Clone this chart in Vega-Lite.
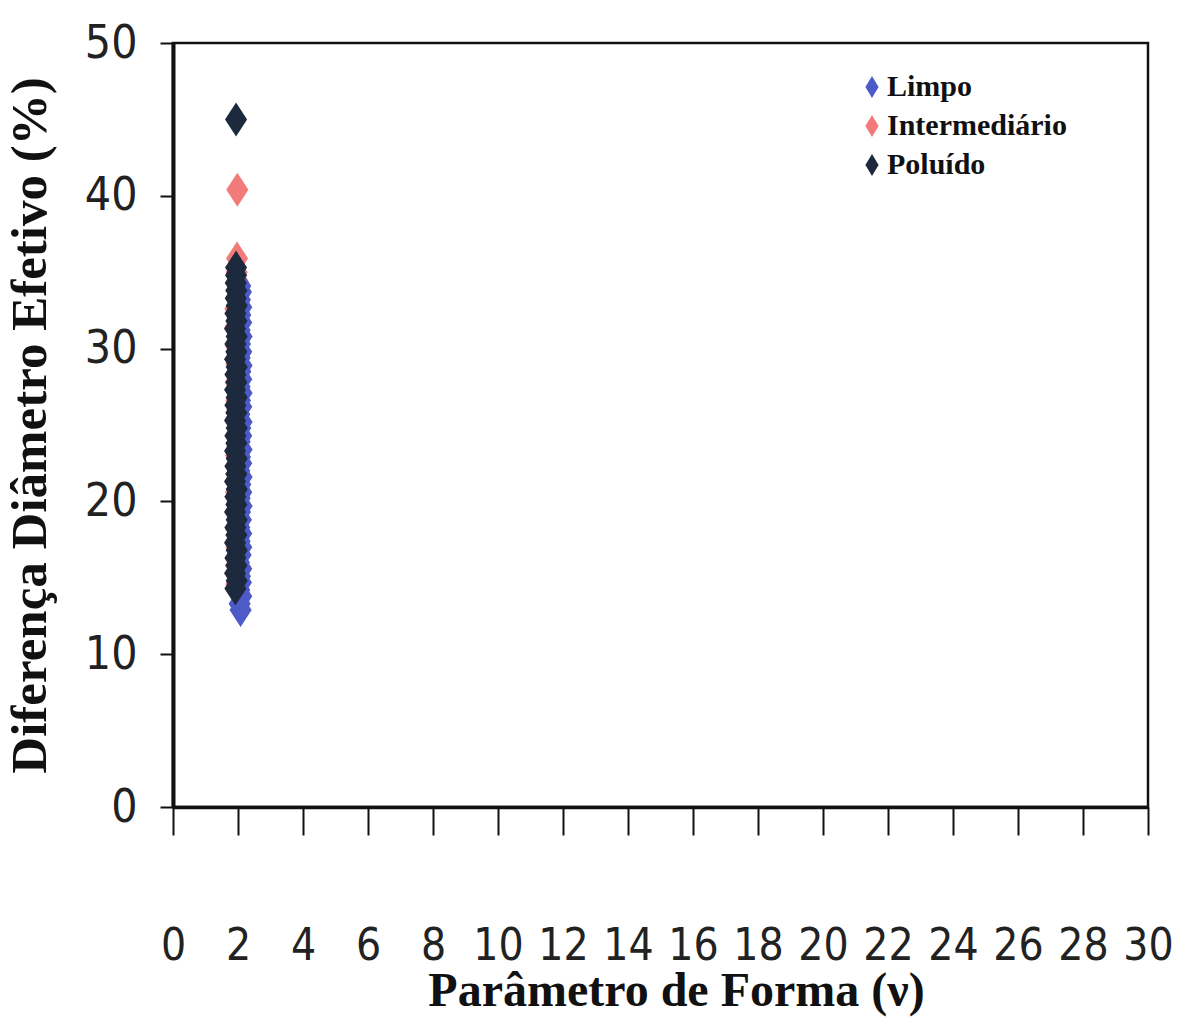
{
  "$schema": "https://vega.github.io/schema/vega-lite/v6.json",
  "width": 975,
  "height": 764,
  "autosize": "none",
  "padding": {"left": 173, "top": 43, "right": 31, "bottom": 211},
  "background": "white",
  "config": {
    "view": {"stroke": "#111", "strokeWidth": 2.5},
    "axis": {"grid": false}
  },
  "data": {
    "values": [
      {"v": 2.08, "d": 12.9, "s": "Limpo"}, {"v": 2.05, "d": 13.3, "s": "Limpo"}, {"v": 2.1, "d": 13.8, "s": "Limpo"},
      {"v": 2.04, "d": 14.2, "s": "Limpo"}, {"v": 2.09, "d": 14.7, "s": "Limpo"}, {"v": 2.06, "d": 15.1, "s": "Limpo"},
      {"v": 2.1, "d": 15.6, "s": "Limpo"}, {"v": 2.03, "d": 16.0, "s": "Limpo"}, {"v": 2.08, "d": 16.5, "s": "Limpo"},
      {"v": 2.1, "d": 17.0, "s": "Limpo"}, {"v": 2.05, "d": 17.4, "s": "Limpo"}, {"v": 2.1, "d": 17.9, "s": "Limpo"},
      {"v": 2.04, "d": 18.3, "s": "Limpo"}, {"v": 2.09, "d": 18.8, "s": "Limpo"}, {"v": 2.06, "d": 19.3, "s": "Limpo"},
      {"v": 2.11, "d": 19.7, "s": "Limpo"}, {"v": 2.05, "d": 20.2, "s": "Limpo"}, {"v": 2.1, "d": 20.6, "s": "Limpo"},
      {"v": 2.07, "d": 21.1, "s": "Limpo"}, {"v": 2.11, "d": 21.6, "s": "Limpo"}, {"v": 2.04, "d": 22.0, "s": "Limpo"},
      {"v": 2.1, "d": 22.5, "s": "Limpo"}, {"v": 2.06, "d": 22.9, "s": "Limpo"}, {"v": 2.11, "d": 23.4, "s": "Limpo"},
      {"v": 2.05, "d": 23.9, "s": "Limpo"}, {"v": 2.1, "d": 24.3, "s": "Limpo"}, {"v": 2.07, "d": 24.8, "s": "Limpo"},
      {"v": 2.11, "d": 25.2, "s": "Limpo"}, {"v": 2.04, "d": 25.7, "s": "Limpo"}, {"v": 2.1, "d": 26.2, "s": "Limpo"},
      {"v": 2.06, "d": 26.6, "s": "Limpo"}, {"v": 2.11, "d": 27.1, "s": "Limpo"}, {"v": 2.05, "d": 27.5, "s": "Limpo"},
      {"v": 2.1, "d": 28.0, "s": "Limpo"}, {"v": 2.07, "d": 28.5, "s": "Limpo"}, {"v": 2.11, "d": 28.9, "s": "Limpo"},
      {"v": 2.05, "d": 29.4, "s": "Limpo"}, {"v": 2.1, "d": 29.8, "s": "Limpo"}, {"v": 2.06, "d": 30.3, "s": "Limpo"},
      {"v": 2.11, "d": 30.8, "s": "Limpo"}, {"v": 2.05, "d": 31.2, "s": "Limpo"}, {"v": 2.1, "d": 31.7, "s": "Limpo"},
      {"v": 2.07, "d": 32.2, "s": "Limpo"}, {"v": 2.1, "d": 32.7, "s": "Limpo"}, {"v": 2.06, "d": 33.2, "s": "Limpo"},
      {"v": 2.09, "d": 33.7, "s": "Limpo"}, {"v": 2.07, "d": 34.1, "s": "Limpo"},

      {"v": 1.95, "d": 14.6, "s": "Intermediário"}, {"v": 1.99, "d": 15.2, "s": "Intermediário"}, {"v": 1.94, "d": 15.8, "s": "Intermediário"},
      {"v": 1.98, "d": 16.4, "s": "Intermediário"}, {"v": 1.95, "d": 17.0, "s": "Intermediário"}, {"v": 2.0, "d": 17.6, "s": "Intermediário"},
      {"v": 1.94, "d": 18.2, "s": "Intermediário"}, {"v": 1.98, "d": 18.8, "s": "Intermediário"}, {"v": 1.95, "d": 19.4, "s": "Intermediário"},
      {"v": 1.99, "d": 20.0, "s": "Intermediário"}, {"v": 1.94, "d": 20.6, "s": "Intermediário"}, {"v": 1.98, "d": 21.2, "s": "Intermediário"},
      {"v": 1.95, "d": 21.8, "s": "Intermediário"}, {"v": 2.0, "d": 22.4, "s": "Intermediário"}, {"v": 1.94, "d": 23.0, "s": "Intermediário"},
      {"v": 1.98, "d": 23.6, "s": "Intermediário"}, {"v": 1.95, "d": 24.2, "s": "Intermediário"}, {"v": 1.99, "d": 24.8, "s": "Intermediário"},
      {"v": 1.94, "d": 25.4, "s": "Intermediário"}, {"v": 1.98, "d": 26.0, "s": "Intermediário"}, {"v": 1.95, "d": 26.6, "s": "Intermediário"},
      {"v": 2.0, "d": 27.2, "s": "Intermediário"}, {"v": 1.93, "d": 27.8, "s": "Intermediário"}, {"v": 1.98, "d": 28.4, "s": "Intermediário"},
      {"v": 1.95, "d": 29.0, "s": "Intermediário"}, {"v": 1.99, "d": 29.6, "s": "Intermediário"}, {"v": 1.93, "d": 30.2, "s": "Intermediário"},
      {"v": 1.98, "d": 30.8, "s": "Intermediário"}, {"v": 1.92, "d": 31.4, "s": "Intermediário"}, {"v": 1.99, "d": 32.0, "s": "Intermediário"},
      {"v": 1.92, "d": 32.6, "s": "Intermediário"}, {"v": 1.98, "d": 33.2, "s": "Intermediário"}, {"v": 1.95, "d": 33.8, "s": "Intermediário"},
      {"v": 1.99, "d": 34.4, "s": "Intermediário"}, {"v": 1.96, "d": 35.0, "s": "Intermediário"}, {"v": 1.97, "d": 35.9, "s": "Intermediário"},
      {"v": 1.98, "d": 40.4, "s": "Intermediário"},

      {"v": 1.92, "d": 14.3, "s": "Poluído"}, {"v": 1.96, "d": 14.8, "s": "Poluído"}, {"v": 1.91, "d": 15.3, "s": "Poluído"},
      {"v": 1.95, "d": 15.8, "s": "Poluído"}, {"v": 1.92, "d": 16.3, "s": "Poluído"}, {"v": 1.96, "d": 16.8, "s": "Poluído"},
      {"v": 1.91, "d": 17.3, "s": "Poluído"}, {"v": 1.95, "d": 17.8, "s": "Poluído"}, {"v": 1.92, "d": 18.3, "s": "Poluído"},
      {"v": 1.96, "d": 18.8, "s": "Poluído"}, {"v": 1.91, "d": 19.3, "s": "Poluído"}, {"v": 1.95, "d": 19.8, "s": "Poluído"},
      {"v": 1.92, "d": 20.3, "s": "Poluído"}, {"v": 1.96, "d": 20.8, "s": "Poluído"}, {"v": 1.91, "d": 21.3, "s": "Poluído"},
      {"v": 1.95, "d": 21.8, "s": "Poluído"}, {"v": 1.92, "d": 22.3, "s": "Poluído"}, {"v": 1.96, "d": 22.8, "s": "Poluído"},
      {"v": 1.91, "d": 23.3, "s": "Poluído"}, {"v": 1.95, "d": 23.8, "s": "Poluído"}, {"v": 1.92, "d": 24.3, "s": "Poluído"},
      {"v": 1.96, "d": 24.8, "s": "Poluído"}, {"v": 1.91, "d": 25.3, "s": "Poluído"}, {"v": 1.95, "d": 25.8, "s": "Poluído"},
      {"v": 1.92, "d": 26.3, "s": "Poluído"}, {"v": 1.96, "d": 26.8, "s": "Poluído"}, {"v": 1.91, "d": 27.3, "s": "Poluído"},
      {"v": 1.95, "d": 27.8, "s": "Poluído"}, {"v": 1.92, "d": 28.3, "s": "Poluído"}, {"v": 1.96, "d": 28.8, "s": "Poluído"},
      {"v": 1.91, "d": 29.3, "s": "Poluído"}, {"v": 1.95, "d": 29.8, "s": "Poluído"}, {"v": 1.92, "d": 30.3, "s": "Poluído"},
      {"v": 1.96, "d": 30.8, "s": "Poluído"}, {"v": 1.91, "d": 31.3, "s": "Poluído"}, {"v": 1.95, "d": 31.8, "s": "Poluído"},
      {"v": 1.92, "d": 32.3, "s": "Poluído"}, {"v": 1.96, "d": 32.8, "s": "Poluído"}, {"v": 1.93, "d": 33.3, "s": "Poluído"},
      {"v": 1.95, "d": 33.8, "s": "Poluído"}, {"v": 1.93, "d": 34.3, "s": "Poluído"}, {"v": 1.94, "d": 34.8, "s": "Poluído"},
      {"v": 1.94, "d": 35.3, "s": "Poluído"}, {"v": 1.94, "d": 45.0, "s": "Poluído"}
    ]
  },
  "mark": {
    "type": "point",
    "shape": "M0,-1L0.65,0L0,1L-0.65,0Z",
    "filled": true,
    "opacity": 1,
    "size": 1156,
    "strokeWidth": 0
  },
  "encoding": {
    "x": {
      "field": "v",
      "type": "quantitative",
      "scale": {"domain": [0, 30], "nice": false, "zero": false},
      "axis": {
        "values": [0, 2, 4, 6, 8, 10, 12, 14, 16, 18, 20, 22, 24, 26, 28, 30],
        "title": "Parâmetro de Forma  (ν)",
        "titleFont": "Liberation Serif",
        "titleFontWeight": "bold",
        "titleFontSize": 48,
        "titleColor": "#111",
        "titleBaseline": "alphabetic",
        "titleX": 503,
        "titleY": 198,
        "labelFont": "DejaVu Sans Condensed, sans-serif",
        "labelFontSize": 44,
        "labelColor": "#222",
        "labelBaseline": "alphabetic",
        "labelPadding": 124,
        "labelFlush": false,
        "labelOverlap": false,
        "tickSize": 28,
        "tickWidth": 2,
        "tickColor": "#111",
        "domainColor": "#111",
        "domainWidth": 3.5
      }
    },
    "y": {
      "field": "d",
      "type": "quantitative",
      "scale": {"domain": [0, 50], "nice": false},
      "axis": {
        "values": [0, 10, 20, 30, 40, 50],
        "title": "Diferença Diâmetro Efetivo (%)",
        "titleFont": "Liberation Serif",
        "titleFontWeight": "bold",
        "titleFontSize": 51,
        "titleColor": "#111",
        "titlePadding": 28,
        "labelFont": "DejaVu Sans Condensed, sans-serif",
        "labelFontSize": 46,
        "labelColor": "#222",
        "labelPadding": 23,
        "labelFlush": false,
        "labelOverlap": false,
        "tickSize": 13,
        "tickWidth": 2,
        "tickColor": "#111",
        "domainColor": "#111",
        "domainWidth": 4
      }
    },
    "color": {
      "field": "s",
      "type": "nominal",
      "scale": {
        "domain": ["Limpo", "Intermediário", "Poluído"],
        "range": ["#4d5bc9", "#f27a78", "#1d2a3e"]
      },
      "legend": {
        "title": null,
        "orient": "none",
        "legendX": 684,
        "legendY": 29,
        "symbolType": "M0,-1L0.6,0L0,1L-0.6,0Z",
        "symbolSize": 484,
        "symbolStrokeWidth": 0,
        "labelFont": "Liberation Serif",
        "labelFontWeight": "bold",
        "labelFontSize": 30,
        "labelColor": "#111",
        "labelLimit": 400,
        "labelOffset": 0,
        "rowPadding": 9
      }
    },
    "order": {"field": "s", "type": "nominal", "sort": "ascending"}
  }
}
